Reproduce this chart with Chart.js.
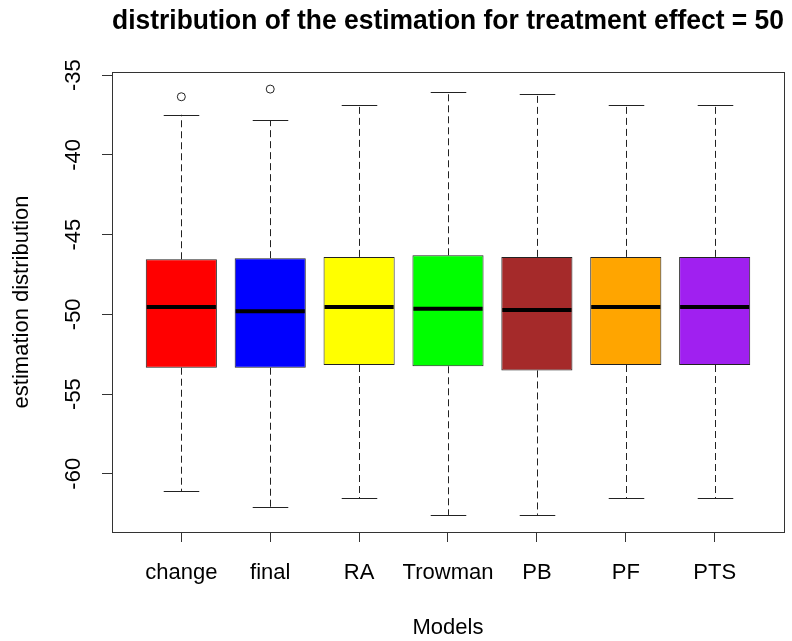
<!DOCTYPE html>
<html>
<head>
<meta charset="utf-8">
<script src="https://cdn.jsdelivr.net/npm/chart.js@4/dist/chart.umd.min.js"></script>
<style>
  html, body { margin: 0; padding: 0; background: #ffffff; }
  #wrap { width: 792px; height: 641px; }
</style>
</head>
<body>
<div id="wrap"><canvas id="chart" width="792" height="641"></canvas></div>
<script>
// Box-plot summary for each model
const models = ['change', 'final', 'RA', 'Trowman', 'PB', 'PF', 'PTS'];
const lowerWhisker = [-61.09, -62.08, -61.53, -62.58, -62.58, -61.53, -61.53];
const q1 = [-53.35, -53.35, -53.18, -53.26, -53.52, -53.18, -53.18];
const median = [-49.54, -49.81, -49.54, -49.65, -49.73, -49.54, -49.54];
const q3 = [-46.55, -46.48, -46.40, -46.30, -46.40, -46.40, -46.40];
const upperWhisker = [-37.49, -37.82, -36.88, -36.09, -36.17, -36.88, -36.88];
const outlierModels = ['change', 'final'];
const outlierValues = [-36.36, -35.88];
const boxColors = ['#FF0000', '#0000FF', '#FFFF00', '#00FF00', '#A52A2A', '#FFA500', '#A020F0'];
const yTicks = [-60, -55, -50, -45, -40, -35];
const yRange = [-63.65, -34.81];
const xRange = [0.22, 7.78];

const FONT = "'Liberation Sans', Arial, sans-serif";
const INK = '#222222';

// Whiskers, staples, medians and the plot frame, positioned by the chart scales
const boxplotExtras = {
  id: 'boxplotExtras',
  beforeDatasetsDraw(chart) {
    const {ctx, scales: {x, y}} = chart;
    const bars = chart.getDatasetMeta(0).data;
    ctx.save();
    ctx.strokeStyle = INK;
    ctx.lineWidth = 1;
    models.forEach((m, i) => {
      const cx = Math.round(x.getPixelForValue(i + 1)) + 0.5;
      const half = bars[i].width / 4;
      const yLo = y.getPixelForValue(lowerWhisker[i]);
      const yQ1 = y.getPixelForValue(q1[i]);
      const yQ3 = y.getPixelForValue(q3[i]);
      const yHi = y.getPixelForValue(upperWhisker[i]);
      ctx.setLineDash([7, 4]);
      ctx.beginPath();
      ctx.moveTo(cx, yQ3); ctx.lineTo(cx, yHi);
      ctx.moveTo(cx, yQ1); ctx.lineTo(cx, yLo);
      ctx.stroke();
      ctx.setLineDash([]);
      ctx.beginPath();
      ctx.moveTo(cx - half, Math.round(yHi) + 0.5); ctx.lineTo(cx + half, Math.round(yHi) + 0.5);
      ctx.moveTo(cx - half, Math.round(yLo) + 0.5); ctx.lineTo(cx + half, Math.round(yLo) + 0.5);
      ctx.stroke();
    });
    ctx.restore();
  },
  afterDatasetsDraw(chart) {
    const {ctx, chartArea: a, scales: {y}} = chart;
    const bars = chart.getDatasetMeta(0).data;
    ctx.save();
    ctx.strokeStyle = '#000000';
    ctx.lineWidth = 4;
    models.forEach((m, i) => {
      const b = bars[i];
      const ym = y.getPixelForValue(median[i]);
      ctx.beginPath();
      ctx.moveTo(b.x - b.width / 2 + 1, ym);
      ctx.lineTo(b.x + b.width / 2 - 1, ym);
      ctx.stroke();
    });
    ctx.strokeStyle = '#333333';
    ctx.lineWidth = 1;
    ctx.strokeRect(Math.round(a.left) + 0.5, Math.round(a.top) + 0.5,
                   Math.round(a.right - a.left), Math.round(a.bottom - a.top));
    ctx.restore();
  }
};

new Chart(document.getElementById('chart'), {
  type: 'bar',
  data: {
    datasets: [
      {
        type: 'bar',
        data: models.map((m, i) => ({x: i + 1, y: [q1[i], q3[i]]})),
        backgroundColor: boxColors,
        borderColor: '#222222',
        borderWidth: 1,
        borderSkipped: false,
        barPercentage: 0.8,
        categoryPercentage: 1.0
      },
      {
        type: 'scatter',
        data: outlierModels.map((m, i) => ({x: models.indexOf(m) + 1, y: outlierValues[i]})),
        pointStyle: 'circle',
        pointRadius: 4,
        pointBorderWidth: 1,
        pointBorderColor: INK,
        pointBackgroundColor: 'rgba(0,0,0,0)'
      }
    ]
  },
  options: {
    responsive: false,
    animation: false,
    layout: { padding: { left: 0, right: 8, top: 0, bottom: 0 } },
    plugins: {
      legend: { display: false },
      tooltip: { enabled: false },
      title: {
        display: true,
        text: 'distribution of the estimation for treatment effect = 50',
        fullSize: false,
        color: '#000000',
        font: { family: FONT, size: 27.2, weight: 'bold', lineHeight: 1.2 },
        padding: { top: 5, bottom: 34.4 }
      }
    },
    scales: {
      x: {
        type: 'linear',
        min: xRange[0],
        max: xRange[1],
        offset: false,
        afterBuildTicks: (axis) => { axis.ticks = models.map((m, i) => ({value: i + 1})); },
        afterFit: (axis) => { axis.height = 109; },
        ticks: {
          autoSkip: false,
          maxRotation: 0,
          padding: 18,
          color: '#000000',
          font: { family: FONT, size: 22 },
          callback: (v) => models[Math.round(v) - 1] ?? ''
        },
        grid: { offset: false, drawOnChartArea: false, drawTicks: true, tickLength: 10, color: '#333333' },
        border: { display: false },
        title: {
          display: true,
          text: 'Models',
          color: '#000000',
          font: { family: FONT, size: 22 },
          padding: { top: 0, bottom: 0 }
        }
      },
      y: {
        type: 'linear',
        min: yRange[0],
        max: yRange[1],
        afterBuildTicks: (axis) => { axis.ticks = yTicks.map(v => ({value: v})); },
        afterFit: (axis) => { axis.width = 112; },
        ticks: {
          minRotation: 90,
          maxRotation: 90,
          crossAlign: 'center',
          padding: 12,
          color: '#000000',
          font: { family: FONT, size: 22 }
        },
        grid: { drawOnChartArea: false, drawTicks: true, tickLength: 10, color: '#333333' },
        border: { display: false },
        title: {
          display: true,
          text: 'estimation distribution',
          color: '#000000',
          font: { family: FONT, size: 22 },
          padding: { top: 8.6, bottom: 0 }
        }
      }
    }
  },
  plugins: [boxplotExtras]
});
</script>
</body>
</html>
